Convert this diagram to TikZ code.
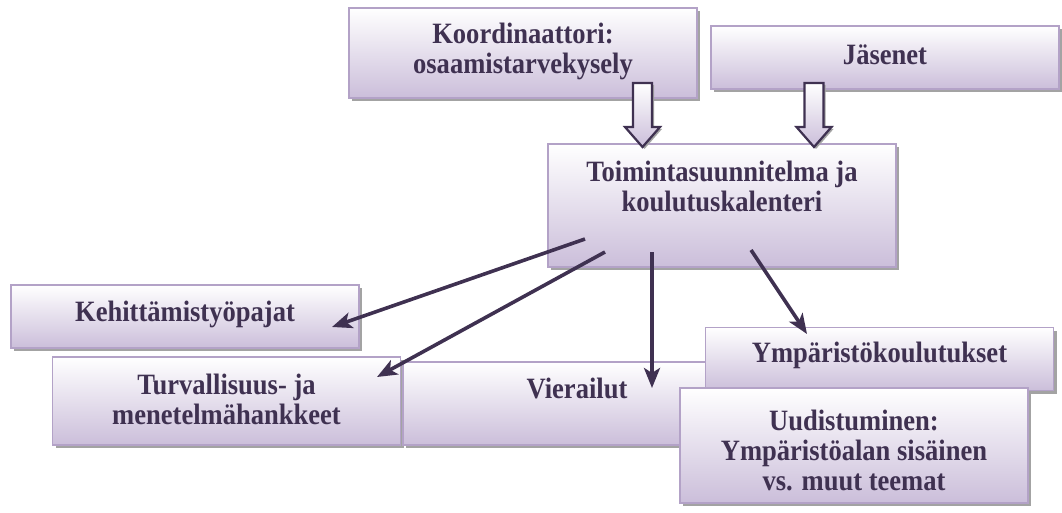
\documentclass[tikz,border=0pt]{standalone}
\usepackage{fontspec}
\setmainfont{Liberation Serif}[FakeStretch=0.9]
\usetikzlibrary{shadows,arrows.meta,calc}
\definecolor{boxline}{HTML}{B3A2C7}
\definecolor{boxfill}{HTML}{CBBEDA}
\definecolor{ink}{HTML}{3F3151}
\definecolor{shade}{HTML}{A3A3A3}

\tikzset{
  panel/.style={draw=boxline, line width=1.8pt, top color=white, bottom color=boxfill,
    minimum width=348pt, inner sep=0pt,
    drop shadow={shadow xshift=3pt, shadow yshift=-3pt, fill=shade, opacity=1}},
  caption/.style={text=ink, font=\fontsize{29.5}{30}\selectfont\bfseries, align=center, inner sep=0pt},
  link/.style={draw=ink, line width=3.6pt, -{Stealth[length=20pt,width=16pt,inset=5pt]}},
  hollow/.style={draw=ink, line width=2.2pt, line join=miter, top color=white, bottom color=boxfill,
    drop shadow={shadow xshift=2pt, shadow yshift=-2pt, fill=shade, opacity=1}},
  fatarrow/.pic={
    \draw[hollow] (-9.5,0) -- (9.5,0) -- (9.5,44) -- (17.5,44) -- (0,64)
      -- (-17.5,44) -- (-9.5,44) -- cycle;
  }
}

\begin{document}
\begin{tikzpicture}[x=1pt,y=-1pt]
\useasboundingbox (0,0) rectangle (1062,513);

% upper inputs
\node[panel, minimum height=90pt] (koord) at (523,53) {};
\node[caption] (koord-t) at (523,51) {Koordinaattori:\\osaamistarvekysely};
\node[panel, minimum height=63pt] (jasen) at (885,57.5) {};
\node[caption] (jasen-t) at (885,55) {Jäsenet};

% central plan
\node[panel, minimum height=123pt] (plan) at (722,205.5) {};
\node[caption] (plan-t) at (722,186) {Toimintasuunnitelma ja\\koulutuskalenteri};

% block arrows into the plan
\pic at (642.5,83) {fatarrow};
\pic at (814,83) {fatarrow};

% outcomes
\node[panel, minimum height=63pt] (kehit) at (185,316.5) {};
\node[caption] (kehit-t) at (185,314) {Kehittämistyöpajat};
\node[panel, minimum height=88pt] (turva) at (226.5,401) {};
\node[caption] (turva-t) at (226.5,399) {Turvallisuus- ja\\menetelmähankkeet};
\node[panel, minimum height=83pt] (vier) at (577,403.5) {};
\node[caption] (vier-t) at (577,388) {Vierailut};
\node[panel, minimum height=63pt] (ymp) at (879.5,359) {};
\node[caption] (ymp-t) at (879.5,355) {Ympäristökoulutukset};
\node[panel, minimum height=115pt] (uud) at (854,445.5) {};
\node[caption] (uud-t) at (854,450) {Uudistuminen:\\Ympäristöalan sisäinen\\vs. muut teemat};

% connectors from the plan
\coordinate (p1) at (585,239);
\coordinate (p2) at (605,252);
\coordinate (p3) at (652,252);
\coordinate (p4) at (751,250);
\coordinate (e1) at (332,327);
\coordinate (e2) at (377,377);
\coordinate (e3) at (652,388);
\coordinate (e4) at (807,334);
\draw[link] (p1) -- (e1);
\draw[link] (p2) -- (e2);
\draw[link] (p3) -- (e3);
\draw[link] (p4) -- (e4);
\end{tikzpicture}
\end{document}
